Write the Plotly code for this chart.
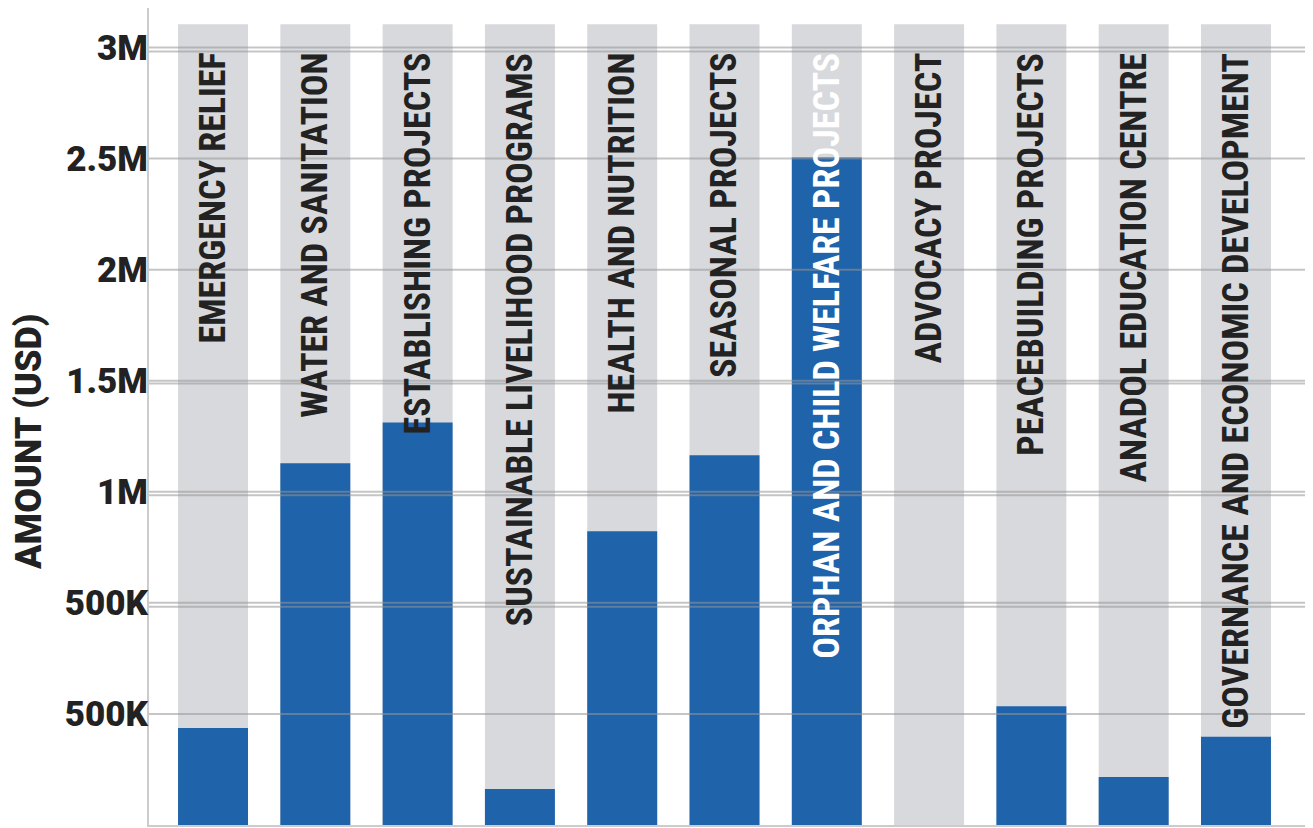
import plotly.graph_objects as go

categories = [
    "EMERGENCY RELIEF",
    "WATER AND SANITATION",
    "ESTABLISHING PROJECTS",
    "SUSTAINABLE LIVELIHOOD PROGRAMS",
    "HEALTH AND NUTRITION",
    "SEASONAL PROJECTS",
    "ORPHAN AND CHILD WELFARE PROJECTS",
    "ADVOCACY PROJECT",
    "PEACEBUILDING PROJECTS",
    "ANADOL EDUCATION CENTRE",
    "GOVERNANCE AND ECONOMIC DEVELOPMENT",
]
amounts = [437000, 1629000, 1812000, 162000, 1322000, 1664000, 3005000, 0, 535000, 216000, 397000]
track = [3605000, 3605000, 3605000, 3605000, 3605000, 3605000, 3605000, 3605000, 3605000, 3605000, 3605000]
label_colors = ["#222222"] * 6 + ["#ffffff"] + ["#222222"] * 4

tick_vals = [500000, 1000000, 1500000, 2000000, 2500000, 3000000, 3500000]
tick_text = ["500K", "500K", "1M", "1.5M", "2M", "2.5M", "3M"]
extra_grid = [983000, 1485000, 1988000, 3482000]

BLUE = "#1F63AB"
GRAY = "#D8D9DD"

fig = go.Figure()
fig.add_trace(go.Bar(x=categories, y=track, marker_color=GRAY, marker_line_width=0,
                     hoverinfo="skip", showlegend=False))
fig.add_trace(go.Bar(x=categories, y=amounts, marker_color=BLUE, marker_line_width=0,
                     showlegend=False))

for v in tick_vals + extra_grid:
    fig.add_shape(type="line", xref="paper", x0=0, x1=1, yref="y", y0=v, y1=v,
                  line=dict(color="rgba(150,150,150,0.55)", width=2), layer="above")

for cat, col in zip(categories, label_colors):
    fig.add_annotation(x=cat, y=3485000, xref="x", yref="y", text=cat, showarrow=False,
                       textangle=-90, xanchor="center", yanchor="top",
                       font=dict(family="Liberation Sans Narrow, Roboto Condensed, DejaVu Sans Condensed, Roboto",
                                 size=36, color=col, weight="bold"))

fig.add_annotation(text="AMOUNT (USD)", xref="paper", yref="paper", x=-0.103, y=0.469,
                   showarrow=False, textangle=-90, xanchor="center", yanchor="middle",
                   font=dict(family="Roboto", size=36, color="#222222", weight=900))

fig.update_layout(
    width=1305, height=820,
    margin=dict(l=141, r=0, t=0, b=3, autoexpand=False),
    barmode="overlay", bargap=0.316,
    plot_bgcolor="white", paper_bgcolor="white",
    xaxis=dict(range=[-0.626, 10.753], showticklabels=False, showgrid=False, automargin=False,
               showline=True, linecolor="#cccccc", linewidth=2, zeroline=False, ticks=""),
    yaxis=dict(range=[0, 3678000], tickvals=tick_vals, ticktext=tick_text, showgrid=False,
               automargin=False,
               showline=True, linecolor="#cccccc", linewidth=2, zeroline=False, ticks="",
               ticklabelstandoff=-8,
               tickfont=dict(family="Roboto", size=35, color="#222222", weight=900)),
)

fig.write_html("out.html")
